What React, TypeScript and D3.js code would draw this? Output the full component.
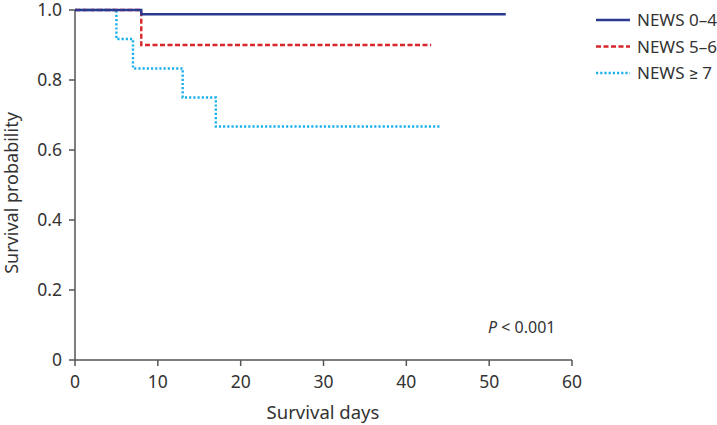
import React from "react";
import * as d3 from "d3";

const seriesNames = ["NEWS 0–4", "NEWS 5–6", "NEWS ≥ 7"];
const seriesColors = ["#2b3990", "#d7262c", "#1cb0ea"];
const seriesDash = ["", "5,2.5", "2.2,2"];
// step points: [day, survival]
const news04Days = [0, 8, 52];
const news04Surv = [1.0, 0.988, 0.988];
const news56Days = [0, 8, 43];
const news56Surv = [1.0, 0.9, 0.9];
const news7Days = [0, 5, 7, 13, 17, 44];
const news7Surv = [1.0, 0.917, 0.833, 0.75, 0.667, 0.667];
const xTicks = [0, 10, 20, 30, 40, 50, 60];
const yTicks = [0, 0.2, 0.4, 0.6, 0.8, 1.0];

const W = 717, H = 425;
const x0 = 75, x1 = 572, y0 = 360, y1 = 10;

export default function App() {
  const x = d3.scaleLinear().domain([0, 60]).range([x0, x1]);
  const y = d3.scaleLinear().domain([0, 1]).range([y0, y1]);
  const line = d3.line<[number, number]>().x(d => x(d[0])).y(d => y(d[1])).curve(d3.curveStepAfter);
  const series = [
    d3.zip(news04Days, news04Surv) as [number, number][],
    d3.zip(news56Days, news56Surv) as [number, number][],
    d3.zip(news7Days, news7Surv) as [number, number][],
  ];
  const font = "'Noto Sans', Roboto, sans-serif";
  const axisColor = "#555";
  const textColor = "#333";
  return (
    <svg width={W} height={H} style={{ position: "absolute", left: 0, top: 0 }} fontFamily={font}>
      <rect width={W} height={H} fill="#fff" />
      {/* axes */}
      <line x1={x0} x2={x0} y1={y1} y2={y0} stroke={axisColor} strokeWidth={1.5} />
      <line x1={x0} x2={x1} y1={y0} y2={y0} stroke={axisColor} strokeWidth={1.5} />
      {yTicks.map(t => (
        <g key={"y" + t}>
          <line x1={x0 - 6} x2={x0} y1={y(t)} y2={y(t)} stroke={axisColor} strokeWidth={1.5} />
          <text x={x0 - 13} y={y(t)} dy="0.36em" textAnchor="end" fontSize={17.5} fill={textColor}>
            {t === 0 ? "0" : t.toFixed(1)}
          </text>
        </g>
      ))}
      {xTicks.map(t => (
        <g key={"x" + t}>
          <line x1={x(t)} x2={x(t)} y1={y0} y2={y0 + 6} stroke={axisColor} strokeWidth={1.5} />
          <text x={x(t)} y={y0 + 28} textAnchor="middle" fontSize={17.5} fill={textColor}>{t}</text>
        </g>
      ))}
      <text x={323} y={419} textAnchor="middle" fontSize={18.5} fill={textColor}>Survival days</text>
      <text transform={`translate(18,193) rotate(-90)`} textAnchor="middle" fontSize={18} fill={textColor}>Survival probability</text>
      {/* curves (drawn in reverse so blue on top) */}
      {[2, 1, 0].map(i => (
        <path key={i} d={line(series[i]) || ""} fill="none" stroke={seriesColors[i]} strokeWidth={2.4}
          strokeDasharray={seriesDash[i] || undefined} />
      ))}
      <text x={488} y={333} fontSize={16} fill={textColor}>
        <tspan fontStyle="italic">P</tspan>
        <tspan> &lt; 0.001</tspan>
      </text>
      {/* legend */}
      {seriesNames.map((n, i) => (
        <g key={n} transform={`translate(596,${20 + i * 26.5})`}>
          <line x1={0} x2={34} y1={0} y2={0} stroke={seriesColors[i]} strokeWidth={2.4} strokeDasharray={seriesDash[i] || undefined} />
          <text x={41} y={0} dy="0.36em" fontSize={17} fill={textColor}>{n}</text>
        </g>
      ))}
    </svg>
  );
}
